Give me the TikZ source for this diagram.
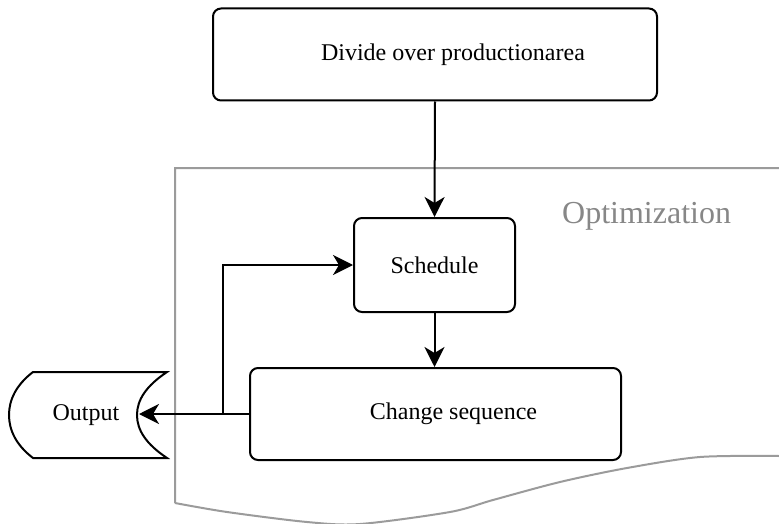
\documentclass[tikz,border=0pt]{standalone}
\usepackage{fontspec}
\setmainfont{Liberation Serif}
\usetikzlibrary{arrows.meta}
\definecolor{framegray}{RGB}{155,155,155}
\definecolor{labelgray}{RGB}{135,135,135}
\tikzset{
  procbox/.style={draw=black, line width=2pt, rounded corners=8pt,
    font=\fontsize{24}{28}\selectfont, align=center, inner sep=0pt},
  % wide boxes set their caption a little right of centre
  offsettext/.style={execute at begin node={\hspace*{36pt}}},
  flow/.style={line width=2pt, -{Stealth[length=20pt,width=20pt,inset=6pt]}},
  frame/.style={draw=framegray, line width=2pt},
}
\begin{document}
\begin{tikzpicture}[x=1pt,y=-1pt]
  \useasboundingbox (0,0) rectangle (779,524);

  % optimization frame (open to the right, wavy bottom)
  \draw[frame] (779,168) -- (175,168) -- (175,503)
    plot[smooth, tension=0.5] coordinates {(175,503) (227,512) (307,522) (360,524)
      (450,512) (493,500) (560,482) (627,468) (700,457) (779,456)};
  \node[text=labelgray, font=\fontsize{32}{36}\selectfont, anchor=base west, inner sep=0pt]
    (optlabel) at (562,223) {Optimization};

  % process boxes
  \node[procbox, offsettext, minimum width=444pt, minimum height=92pt] (divide) at (435,54.5)
    {Divide over productionarea};
  \node[procbox, minimum width=161pt, minimum height=94pt] (sched) at (434.5,265)
    {Schedule};
  \node[procbox, offsettext, minimum width=371pt, minimum height=92pt] (change) at (435.5,414)
    {Change sequence};

  % stored-data shape for the output
  \draw[line width=2pt] (33,372) -- (167,372)
    .. controls (146,386) and (137,400) .. (137,415)
    .. controls (137,430) and (146,444) .. (167,458)
    -- (33,458)
    .. controls (16,445) and (9,430) .. (9,415)
    .. controls (9,400) and (16,385) .. (33,372) -- cycle;
  \node[font=\fontsize{24}{28}\selectfont, inner sep=0pt] (output) at (86,415) {Output};
  \coordinate (outtip) at (139,414);
  \coordinate (branch) at (222.5,414);

  % connectors
  \draw[flow] (divide.south) -- (sched.north);
  \draw[flow] (sched.south) -- (sched.south |- change.north);
  \draw[flow] (change.west) -- (outtip);
  \draw[flow] (branch) |- (sched.west);
\end{tikzpicture}
\end{document}
